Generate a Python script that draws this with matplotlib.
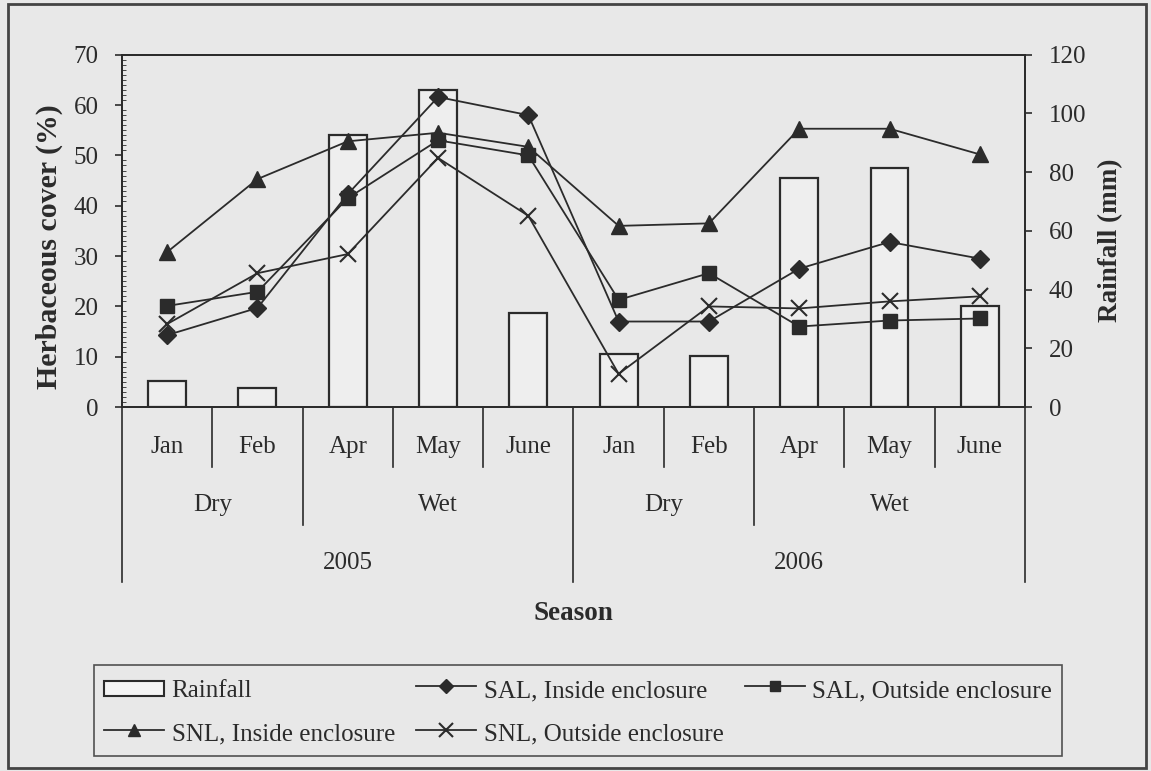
import numpy as np
import matplotlib.pyplot as plt
import matplotlib.transforms as mtransforms
from matplotlib.patches import Rectangle
from matplotlib.lines import Line2D
from matplotlib.legend_handler import HandlerPatch

plt.rcParams['font.family'] = 'Liberation Serif'

ink = '#2b2b2b'
bg = '#e8e8e8'

# monthly observations, dry and wet seasons of 2005 and 2006
months = ['Jan', 'Feb', 'Apr', 'May', 'June', 'Jan', 'Feb', 'Apr', 'May', 'June']
seasons = ['Dry', 'Wet', 'Dry', 'Wet']
years = ['2005', '2006']

rainfall = [9, 6.5, 92.5, 108, 32, 18, 17.5, 78, 81.5, 34.5]           # mm
sal_in = [14.3, 19.7, 42.3, 61.6, 58.0, 17.0, 17.0, 27.5, 32.8, 29.5]   # %
sal_out = [20.1, 22.9, 41.5, 53.0, 50.0, 21.3, 26.6, 16.0, 17.2, 17.6]
snl_in = [30.8, 45.3, 52.8, 54.5, 51.7, 36.0, 36.5, 55.3, 55.3, 50.2]
snl_out = [16.5, 26.6, 30.4, 49.5, 38.0, 6.6, 20.0, 19.6, 21.0, 22.0]

x = np.arange(len(months))

fig = plt.figure(figsize=(11.51, 7.71), dpi=100, facecolor=bg)
ax1 = fig.add_axes([0.106, 0.472, 0.7845, 0.457])
ax2 = ax1.twinx()
ax1.set_zorder(ax2.get_zorder() + 1)
ax1.patch.set_visible(False)
ax2.set_facecolor(bg)

# rainfall bars on the right axis
ax2.bar(x, rainfall, width=0.42, facecolor='#eeeeee', edgecolor=ink, linewidth=1.6)
ax2.set_ylim(0, 120)
ax2.set_yticks(np.arange(0, 121, 20))

# herbaceous cover lines on the left axis
lkw = dict(color=ink, linewidth=1.3, markeredgecolor=ink, markerfacecolor=ink)
ax1.plot(x, sal_in, marker='D', markersize=9, **lkw)
ax1.plot(x, sal_out, marker='s', markersize=9.5, **lkw)
ax1.plot(x, snl_in, marker='^', markersize=11, **lkw)
ax1.plot(x, snl_out, marker='x', markersize=12, markeredgewidth=1.5, **lkw)

ax1.set_xlim(-0.5, len(months) - 0.5)
ax1.set_ylim(0, 70)
ax1.set_yticks(np.arange(0, 71, 10))
ax1.set_yticks(np.arange(0, 71, 1), minor=True)
ax1.set_xticks([])

for a in (ax1, ax2):
    for s in a.spines.values():
        s.set_color(ink)
        s.set_linewidth(1.3)
ax1.tick_params(axis='y', which='major', direction='out', length=5, width=1.2,
                colors=ink, labelsize=18, pad=12)
ax1.tick_params(axis='y', which='minor', direction='in', length=3, width=0.6, colors=ink)
ax2.tick_params(axis='y', direction='out', length=5, width=1.2, colors=ink,
                labelsize=18, pad=12)

ax1.set_ylabel('Herbaceous cover (%)', fontsize=21.5, fontweight='bold', color=ink)
ax1.yaxis.set_label_coords(-0.0653, 0.4545)
ax2.set_ylabel('Rainfall (mm)', fontsize=19.5, fontweight='bold', color=ink)
ax2.yaxis.set_label_coords(1.081, 0.474)

# multi-level category axis: month / season / year
trans = mtransforms.blended_transform_factory(ax1.transData, ax1.transAxes)
season_edges = [1.5, 6.5]
year_edges = [-0.5, 4.5, 9.5]
for b in np.arange(-0.5, len(months), 1.0):
    if b in year_edges:
        depth = -0.497
    elif b in season_edges:
        depth = -0.335
    else:
        depth = -0.170
    ax1.plot([b, b], [0, depth], transform=trans, clip_on=False, color=ink, linewidth=1.2)

for xi, m in zip(x, months):
    ax1.text(xi, -0.114, m, transform=trans, ha='center', va='center', fontsize=18, color=ink)

season_mid = [(-0.5 + 1.5) / 2, (1.5 + 4.5) / 2, (4.5 + 6.5) / 2, (6.5 + 9.5) / 2]
for xi, s in zip(season_mid, seasons):
    ax1.text(xi, -0.278, s, transform=trans, ha='center', va='center', fontsize=18, color=ink)

for xi, yr in zip([2.0, 7.0], years):
    ax1.text(xi, -0.443, yr, transform=trans, ha='center', va='center', fontsize=18, color=ink)

ax1.text(4.5, -0.585, 'Season', transform=trans, ha='center', va='center',
         fontsize=19.5, fontweight='bold', color=ink)


def flat_box(legend, orig_handle, xdescent, ydescent, width, height, fontsize):
    # a low, wide box for the rainfall key
    h = 0.6 * fontsize
    return Rectangle((-xdescent, -ydescent + (height - h) / 2), width, h)


# legend, filled column by column
rain_key = Rectangle((0, 0), 1, 1, facecolor='#f4f4f4', edgecolor=ink, linewidth=1.5)
handles = [
    rain_key,
    Line2D([], [], marker='^', markersize=9, **lkw),
    Line2D([], [], marker='D', markersize=7.5, **lkw),
    Line2D([], [], marker='x', markersize=10, markeredgewidth=1.5, **lkw),
    Line2D([], [], marker='s', markersize=7.5, **lkw),
]
labels = ['Rainfall', 'SNL, Inside enclosure', 'SAL, Inside enclosure',
          'SNL, Outside enclosure', 'SAL, Outside enclosure']
leg = fig.legend(handles, labels, ncol=3, loc='center',
                 bbox_to_anchor=(0.0817, 0.0785, 0.841, 0), mode='expand',
                 fontsize=18, frameon=True, fancybox=False, handlelength=2.4,
                 handleheight=1.3, handletextpad=0.3, borderpad=0.4,
                 labelspacing=0.65, borderaxespad=0,
                 handler_map={Rectangle: HandlerPatch(patch_func=flat_box)})
leg.get_frame().set_edgecolor(ink)
leg.get_frame().set_facecolor(bg)
leg.get_frame().set_linewidth(1.2)
for t in leg.get_texts():
    t.set_color(ink)

# outer frame
fig.patches.append(Rectangle((0.007, 0.004), 0.989, 0.991, transform=fig.transFigure,
                             fill=False, edgecolor='#444444', linewidth=2.0))

fig.savefig('out.png', dpi=100, facecolor=bg)
